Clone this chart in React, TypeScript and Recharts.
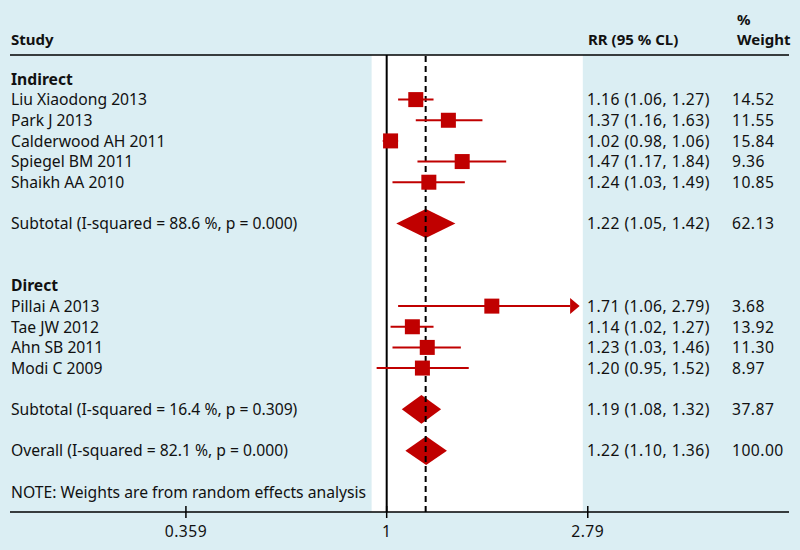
import React from "react";
import { ScatterChart, Scatter, XAxis, YAxis, ErrorBar, ReferenceLine, ReferenceArea } from "recharts";

document.body.style.margin = "0";

const BG = "#dbeef3";
const RED = "#c00000";
const FONT = "'Noto Sans', sans-serif";

// individual studies, top to bottom
const studyNames = ["Liu Xiaodong 2013", "Park J 2013", "Calderwood AH 2011", "Spiegel BM 2011", "Shaikh AA 2010", "Pillai A 2013", "Tae JW 2012", "Ahn SB 2011", "Modi C 2009"];
const studyRows = [1, 2, 3, 4, 5, 11, 12, 13, 14];
const studyRR = [1.16, 1.37, 1.02, 1.47, 1.24, 1.71, 1.14, 1.23, 1.2];
const studyLow = [1.06, 1.16, 0.98, 1.17, 1.03, 1.06, 1.02, 1.03, 0.95];
const studyHigh = [1.27, 1.63, 1.06, 1.84, 1.49, 2.79, 1.27, 1.46, 1.52];
const studyWeight = [14.52, 11.55, 15.84, 9.36, 10.85, 3.68, 13.92, 11.3, 8.97];

// pooled estimates
const pooledNames = ["Subtotal (I-squared = 88.6 %, p = 0.000)", "Subtotal (I-squared = 16.4 %, p = 0.309)", "Overall (I-squared = 82.1 %, p = 0.000)"];
const pooledRows = [7, 16, 18];
const pooledRR = [1.22, 1.19, 1.22];
const pooledLow = [1.05, 1.08, 1.1];
const pooledHigh = [1.42, 1.32, 1.36];
const pooledWeight = [62.13, 37.87, 100.0];

const groupNames = ["Indirect", "Direct"];
const groupRows = [0, 10];
const noteText = "NOTE: Weights are from random effects analysis";
const noteRow = 20;

const xTicks = [0.359, 1, 2.79];
const overallRR = 1.22;

// axis ranges
const X_MIN = 0.1463;
const X_MAX = 7.79;
const Y_MIN = -1.16;
const Y_MAX = 20.97;
const CI_CLIP = 2.55; // CI lines beyond this end in an arrow
const SHADE = [0.926, 2.72];

const fmt = (v: number) => v.toFixed(2);

const textRows = [
  ...groupNames.map((name, i) => ({ x: 1, y: groupRows[i], label: name, bold: true, rr: "", w: "" })),
  ...studyNames.map((name, i) => ({
    x: 1,
    y: studyRows[i],
    label: name,
    bold: false,
    rr: `${fmt(studyRR[i])} (${fmt(studyLow[i])}, ${fmt(studyHigh[i])})`,
    w: fmt(studyWeight[i]),
  })),
  ...pooledNames.map((name, i) => ({
    x: 1,
    y: pooledRows[i],
    label: name,
    bold: false,
    rr: `${fmt(pooledRR[i])} (${fmt(pooledLow[i])}, ${fmt(pooledHigh[i])})`,
    w: fmt(pooledWeight[i]),
  })),
  { x: 1, y: noteRow, label: noteText, bold: false, rr: "", w: "" },
];

const studyPoints = studyNames.map((name, i) => ({
  x: studyRR[i],
  y: studyRows[i],
  err: [studyRR[i] - studyLow[i], Math.min(studyHigh[i], CI_CLIP) - studyRR[i]],
}));

const arrowPoints = studyNames
  .map((_, i) => ({ x: CI_CLIP, y: studyRows[i], hi: studyHigh[i] }))
  .filter((p) => p.hi > CI_CLIP);

const bodyStyle = { fontFamily: FONT, fontSize: 15.7, fill: "#111" };
const numStyle = { ...bodyStyle, letterSpacing: 0.45 };

const TextRow = (props: any) => {
  const { cy, payload } = props;
  return (
    <g>
      <text x={11} y={cy} dy={5.8} style={bodyStyle} fontWeight={payload.bold ? 700 : 400}>
        {payload.label}
      </text>
      {payload.rr && (
        <text x={587} y={cy} dy={5.8} style={numStyle}>
          {payload.rr}
        </text>
      )}
      {payload.w && (
        <text x={732} y={cy} dy={5.8} style={numStyle}>
          {payload.w}
        </text>
      )}
    </g>
  );
};

const Square = (props: any) => {
  const { cx, cy } = props;
  return <rect x={cx - 7.5} y={cy - 7.5} width={15} height={15} fill={RED} />;
};

const Arrow = (props: any) => {
  const { cx, cy } = props;
  return <polygon points={`${cx},${cy - 8} ${cx + 9.5},${cy} ${cx},${cy + 8}`} fill={RED} />;
};

const Diamond = (props: any) => {
  const { x, y, width, height } = props;
  const mx = x + width / 2;
  const my = y + height / 2;
  return <polygon points={`${x},${my} ${mx},${y} ${x + width},${my} ${mx},${y + height}`} fill={RED} />;
};

const Tick = (props: any) => {
  const { x, y, payload } = props;
  return (
    <g>
      <line x1={x} x2={x} y1={y - 6} y2={y + 6} stroke="#000" strokeWidth={1.5} />
      <text x={x} y={y + 24.5} textAnchor="middle" style={numStyle}>
        {payload.value}
      </text>
    </g>
  );
};

const headStyle = { fontFamily: FONT, fontSize: 15, fontWeight: 700, fill: "#111" };

export default function App() {
  return (
    <div style={{ position: "relative", width: 800, height: 550, background: BG }}>
      <ScatterChart width={800} height={550} margin={{ top: 55, right: 11, bottom: 8, left: 10 }}>
        <XAxis
          type="number"
          dataKey="x"
          scale="log"
          domain={[X_MIN, X_MAX]}
          allowDataOverflow
          ticks={xTicks}
          interval={0}
          tickSize={0}
          tickMargin={0}
          tickLine={false}
          height={30}
          axisLine={{ stroke: "#000", strokeWidth: 1.5 }}
          tick={<Tick />}
        />
        <YAxis type="number" dataKey="y" domain={[Y_MIN, Y_MAX]} reversed hide allowDataOverflow />
        <ReferenceArea x1={SHADE[0]} x2={SHADE[1]} y1={Y_MIN} y2={Y_MAX} fill="#ffffff" fillOpacity={1} stroke="none" />
        <ReferenceLine y={Y_MIN} stroke="#000" strokeWidth={1.5} />
        <ReferenceLine x={1} stroke="#000" strokeWidth={2} />
        <ReferenceLine x={overallRR} stroke="#000" strokeWidth={2} strokeDasharray="6 4" />
        {pooledRows.map((row, i) => (
          <ReferenceArea
            key={row}
            x1={pooledLow[i]}
            x2={pooledHigh[i]}
            y1={row - 0.7}
            y2={row + 0.7}
            shape={<Diamond />}
          />
        ))}
        <Scatter data={textRows} shape={<TextRow />} isAnimationActive={false} />
        <Scatter data={studyPoints} shape={<Square />} isAnimationActive={false}>
          <ErrorBar dataKey="err" direction="x" width={0} stroke={RED} strokeWidth={2} />
        </Scatter>
        <Scatter data={arrowPoints} shape={<Arrow />} isAnimationActive={false} />
      </ScatterChart>
      <svg width={800} height={60} style={{ position: "absolute", left: 0, top: 0, pointerEvents: "none" }}>
        <text x={11} y={45} style={headStyle}>Study</text>
        <text x={588} y={45} style={headStyle}>RR (95 % CL)</text>
        <text x={737} y={25} style={headStyle}>%</text>
        <text x={737} y={45} style={headStyle}>Weight</text>
      </svg>
    </div>
  );
}
